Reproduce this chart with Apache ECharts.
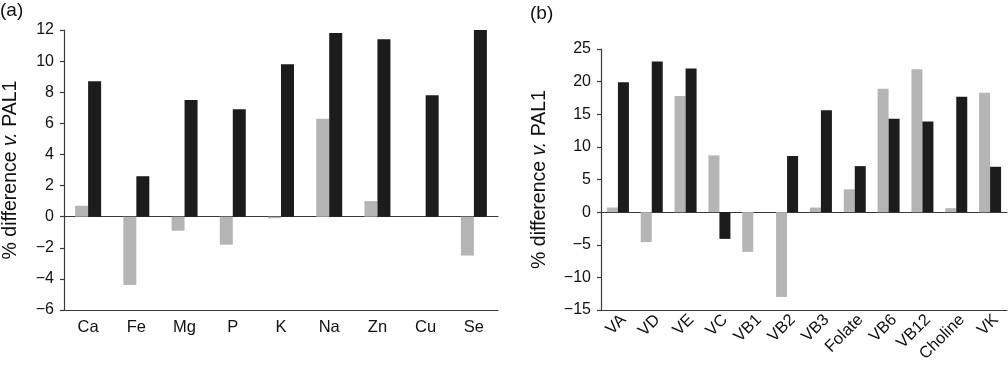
<!DOCTYPE html>
<html><head><meta charset="utf-8">
<script src="https://cdn.jsdelivr.net/npm/echarts@6/dist/echarts.min.js"></script>
<style>html,body{margin:0;padding:0;background:#fff}#c{width:1008px;height:367px}</style>
</head><body><div id="c"></div>
<script>
const mineralCats = ['Ca','Fe','Mg','P','K','Na','Zn','Cu','Se'];
const mineralGrey = [0.7,-4.4,-0.9,-1.8,-0.1,6.3,1.0,0,-2.5];
const mineralBlack = [8.7,2.6,7.5,6.9,9.8,11.8,11.4,7.8,12.0];
const vitaminCats = ['VA','VD','VE','VC','VB1','VB2','VB3','Folate','VB6','VB12','Choline','VK'];
const vitaminGrey = [0.7,-4.6,17.8,8.7,-6.1,-13.0,0.7,3.5,18.9,21.9,0.6,18.3];
const vitaminBlack = [19.9,23.1,22.0,-4.1,0,8.6,15.6,7.05,14.3,13.9,17.7,6.95];
const yTicksA = {min:-6,max:12,interval:2};
const yTicksB = {min:-15,max:25,interval:5};
const yTitle = '% difference {i|v.} PAL1';

const FONT = 'Liberation Sans, Arial, sans-serif';
const AX = '#3a3a3a';
const GREY = '#b5b5b5', BLACK = '#1c1c1c';

function xAxes(cats, gridIndex, rotate){
  const lab = {color:'#111',fontFamily:FONT,fontSize:16.5,margin:9,rotate:0,interval:0};
  if (rotate){ lab.rotate = rotate; lab.margin = 13; lab.padding = [0,-8,0,0]; }
  return [
    {type:'category', gridIndex, data:cats, position:'bottom',
     axisLine:{onZero:false, lineStyle:{color:AX,width:1.2}},
     axisTick:{inside:true,length:5,lineStyle:{color:AX,width:1.2}},
     axisLabel:lab},
    {type:'category', gridIndex, data:cats, position:'bottom',
     axisLine:{onZero:true, lineStyle:{color:AX,width:1.2}},
     axisTick:{inside:true,length:5,lineStyle:{color:AX,width:1.2}},
     axisLabel:{show:false}}
  ];
}
function yAxis(t, gridIndex, gap){
  return {type:'value', gridIndex, min:t.min, max:t.max, interval:t.interval,
    splitLine:{show:false},
    axisLine:{show:true,lineStyle:{color:AX,width:1.2}},
    axisTick:{show:true,inside:false,length:4,lineStyle:{color:AX,width:1.2}},
    axisLabel:{color:'#111',fontFamily:FONT,fontSize:16,margin:10,
      formatter:v=>String(v).replace('-','\u2212')},
    name:yTitle, nameLocation:'middle', nameGap:gap, nameRotate:90,
    nameTextStyle:{color:'#111',fontFamily:FONT,fontSize:19.5,
      rich:{i:{fontStyle:'italic',fontFamily:FONT,fontSize:19.5,color:'#111'}}}
  };
}
const chart = echarts.init(document.getElementById('c'));
chart.setOption({
  animation:false,
  grid:[{left:64,top:30,width:434,height:280},{left:601,top:49,width:406,height:261}],
  xAxis:[...xAxes(mineralCats,0,0), ...xAxes(vitaminCats,1,45)],
  yAxis:[yAxis(yTicksA,0,43), yAxis(yTicksB,1,51)],
  series:[
    {type:'bar',xAxisIndex:0,yAxisIndex:0,data:mineralGrey,barWidth:13,barGap:'0%',itemStyle:{color:GREY}},
    {type:'bar',xAxisIndex:0,yAxisIndex:0,data:mineralBlack,barWidth:13,barGap:'0%',itemStyle:{color:BLACK}},
    {type:'bar',xAxisIndex:2,yAxisIndex:1,data:vitaminGrey,barWidth:11,barGap:'0%',itemStyle:{color:GREY}},
    {type:'bar',xAxisIndex:2,yAxisIndex:1,data:vitaminBlack,barWidth:11,barGap:'0%',itemStyle:{color:BLACK}}
  ],
  graphic:[
    {type:'text',left:0,top:1,style:{text:'(a)',font:'19px '+FONT,fill:'#111'}},
    {type:'text',left:530,top:4,style:{text:'(b)',font:'19px '+FONT,fill:'#111'}}
  ]
});
</script></body></html>
